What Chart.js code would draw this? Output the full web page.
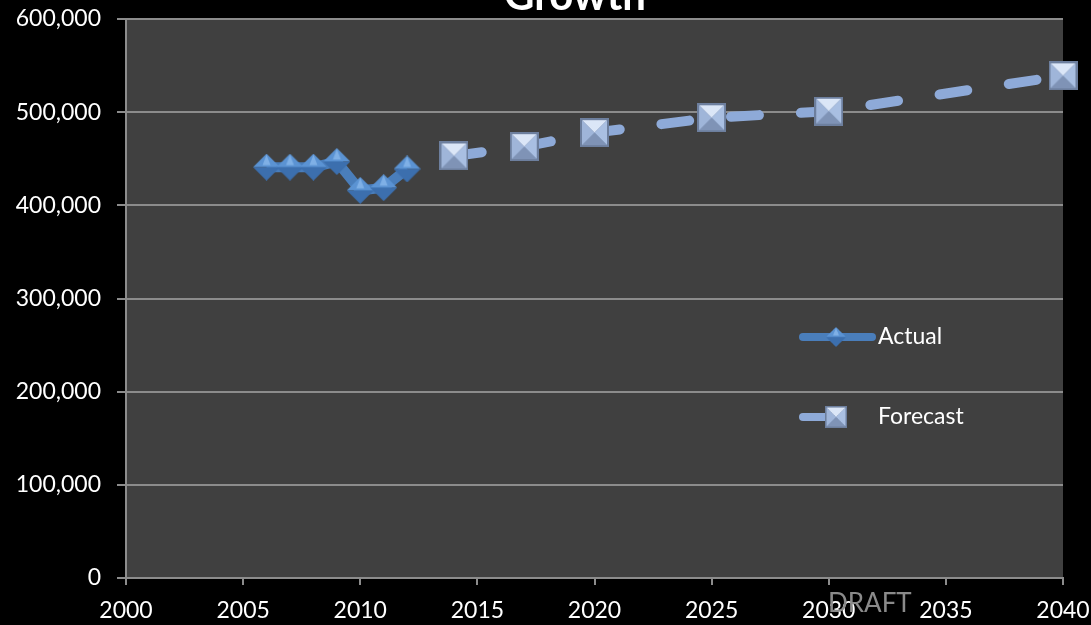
<!DOCTYPE html>
<html>
<head>
<meta charset="utf-8">
<script src="https://cdn.jsdelivr.net/npm/chart.js@4.4.1/dist/chart.umd.min.js"></script>
<style>
  html, body { margin: 0; padding: 0; background: #000; }
  #wrap { width: 1091px; height: 625px; }
</style>
</head>
<body>
<div id="wrap"><canvas id="growthChart" width="1091" height="625"></canvas></div>
<script>
// chart values
const actualYears = [2006, 2007, 2008, 2009, 2010, 2011, 2012];
const actualValues = [441000, 441000, 441000, 447000, 416000, 419000, 439000];
const forecastYears = [2014, 2017, 2020, 2025, 2030, 2040];
const forecastValues = [453000, 463000, 478000, 494000, 501000, 539000];
const yTicks = [0, 100000, 200000, 300000, 400000, 500000, 600000];
const xTicks = [2000, 2005, 2010, 2015, 2020, 2025, 2030, 2035, 2040];

const FONT = 'Lato, "Open Sans", sans-serif';

// bevelled marker pictures, a bit like the office 3d markers
function diamondMarker(size) {
    const c = document.createElement('canvas');
    c.width = size; c.height = size;
    const g = c.getContext('2d');
    const h = size / 2;
    g.fillStyle = '#5b93d3';
    g.beginPath(); g.moveTo(h, 0); g.lineTo(size, h); g.lineTo(0, h); g.closePath(); g.fill();
    g.fillStyle = '#3c6fae';
    g.beginPath(); g.moveTo(0, h); g.lineTo(size, h); g.lineTo(h, size); g.closePath(); g.fill();
    g.fillStyle = '#7fb0e6';
    g.beginPath(); g.moveTo(h, 1); g.lineTo(h + 4, h - 2); g.lineTo(h - 4, h - 2); g.closePath(); g.fill();
    return c;
}

function squareMarker(size) {
    const c = document.createElement('canvas');
    c.width = size; c.height = size;
    const g = c.getContext('2d');
    const h = size / 2;
    g.fillStyle = '#6d7f9e';
    g.fillRect(0, 0, size, size);
    const tri = (pts, col) => {
        g.fillStyle = col;
        g.beginPath(); g.moveTo(pts[0], pts[1]); g.lineTo(pts[2], pts[3]); g.lineTo(h, h); g.closePath(); g.fill();
    };
    const b = 2;
    tri([b, b, size - b, b], '#dbe6f7');          // top
    tri([size - b, b, size - b, size - b], '#a9bfe2'); // right
    tri([size - b, size - b, b, size - b], '#7f93b6'); // bottom
    tri([b, size - b, b, b], '#9fb5d9');          // left
    return c;
}

const diamondImg = diamondMarker(27);
const squareImg = squareMarker(29);

const actualColor = '#4a7ebb';
const forecastColor = '#8eaad8';

// plot area fill + title + legend + DRAFT stamp
const decorPlugin = {
    id: 'decor',
    beforeDraw(chart) {
        const { ctx, chartArea: a } = chart;
        ctx.save();
        ctx.fillStyle = '#000';
        ctx.fillRect(0, 0, chart.width, chart.height);
        ctx.fillStyle = '#404040';
        ctx.fillRect(a.left, a.top, a.right - a.left, a.bottom - a.top);
        ctx.restore();
    },
    afterDraw(chart) {
        const { ctx } = chart;
        ctx.save();
        // title, mostly cut off at the top of the picture
        ctx.fillStyle = '#fff';
        ctx.font = 'bold 42px ' + FONT;
        ctx.textAlign = 'center';
        ctx.textBaseline = 'alphabetic';
        ctx.fillText('Growth', 575, 10);

        // legend
        const items = [
            { label: 'Actual', color: actualColor, img: diamondImg, y: 337 },
            { label: 'Forecast', color: forecastColor, img: squareImg, y: 417 }
        ];
        ctx.font = '23px ' + FONT;
        ctx.textAlign = 'left';
        ctx.textBaseline = 'middle';
        items.forEach(it => {
            ctx.strokeStyle = it.color;
            ctx.lineWidth = 8;
            ctx.lineCap = 'round';
            ctx.beginPath();
            ctx.moveTo(803, it.y);
            ctx.lineTo(it.label === 'Actual' ? 872 : 830, it.y);
            ctx.stroke();
            const s = it.label === 'Actual' ? 20 : 22;
            ctx.drawImage(it.img, 836 - s / 2, it.y - s / 2, s, s);
            ctx.fillStyle = '#fff';
            ctx.fillText(it.label, 878, it.y);
        });

        // DRAFT stamp
        ctx.fillStyle = '#8a8a8a';
        ctx.font = '26px ' + FONT;
        ctx.textAlign = 'left';
        ctx.textBaseline = 'alphabetic';
        ctx.fillText('DRAFT', 828, 612);
        ctx.restore();
    }
};

const ctx = document.getElementById('growthChart').getContext('2d');
const growthChart = new Chart(ctx, {
    type: 'line',
    data: {
        datasets: [
            {
                label: 'Actual',
                data: actualYears.map((yr, i) => ({ x: yr, y: actualValues[i] })),
                borderColor: actualColor,
                borderWidth: 10,
                pointStyle: diamondImg,
                pointRadius: 13,
                pointHoverRadius: 13,
                tension: 0,
                order: 2
            },
            {
                label: 'Forecast',
                data: forecastYears.map((yr, i) => ({ x: yr, y: forecastValues[i] })),
                borderColor: forecastColor,
                borderWidth: 10,
                borderDash: [28, 42],
                borderCapStyle: 'round',
                pointStyle: squareImg,
                pointRadius: 14,
                pointHoverRadius: 14,
                tension: 0,
                order: 1
            }
        ]
    },
    options: {
        responsive: false,
        animation: false,
        clip: false,
        layout: { autoPadding: false, padding: { top: 19, right: 28, left: 0, bottom: 0 } },
        plugins: {
            legend: { display: false },
            title: { display: false },
            tooltip: { enabled: false }
        },
        scales: {
            x: {
                type: 'linear',
                min: 2000,
                max: 2040,
                afterBuildTicks: axis => { axis.ticks = xTicks.map(v => ({ value: v })); },
                afterFit: axis => {
                    axis.height = 47;
                    axis.paddingLeft = 0; axis.paddingRight = 0;
                    axis.paddingTop = 0; axis.paddingBottom = 0;
                },
                ticks: {
                    color: '#fff',
                    font: { family: FONT, size: 23 },
                    padding: 12,
                    maxRotation: 0,
                    callback: v => String(v)
                },
                grid: {
                    drawOnChartArea: false,
                    drawTicks: true,
                    tickLength: 7,
                    color: '#8c8c8c',
                    lineWidth: 2
                },
                border: { color: '#8c8c8c', width: 2 }
            },
            y: {
                min: 0,
                max: 600000,
                afterBuildTicks: axis => { axis.ticks = yTicks.map(v => ({ value: v })); },
                afterFit: axis => {
                    axis.width = 126;
                    axis.paddingLeft = 0; axis.paddingRight = 0;
                    axis.paddingTop = 0; axis.paddingBottom = 0;
                },
                ticks: {
                    color: '#fff',
                    font: { family: FONT, size: 23 },
                    padding: 16,
                    callback: v => v.toLocaleString('en-US')
                },
                grid: {
                    color: '#8c8c8c',
                    lineWidth: 2,
                    tickLength: 9
                },
                border: { color: '#8c8c8c', width: 2 }
            }
        }
    },
    plugins: [decorPlugin]
});
</script>
</body>
</html>
